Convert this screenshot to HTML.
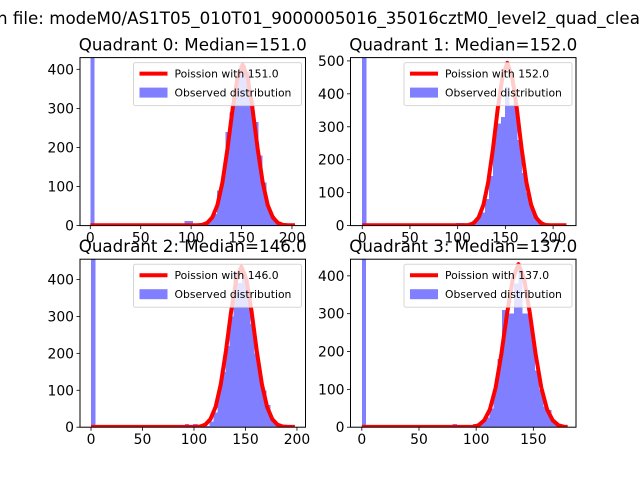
<!DOCTYPE html>
<html><head><meta charset="utf-8">
<style>
html,body{margin:0;padding:0;background:#fff;}
svg{display:block;font-family:"DejaVu Sans","Liberation Sans",sans-serif;}
</style></head>
<body>
<svg id="fig" width="640" height="480" viewBox="0 0 640 480">
<rect width="640" height="480" fill="#fff"/>
<text x="-3" y="24" font-size="16.7">n file: modeM0/AS1T05_010T01_9000005016_35016cztM0_level2_quad_clean.evt</text>
</svg>
<script>
// ---- data ----
const medians = [151.0, 152.0, 146.0, 137.0];
const binWidths = [4.06, 4.28, 3.96, 3.6];
const counts0 = [2000,0,0,0,0,0,0,0,0,0,0,0,0,0,0,0,0,0,0,0,0,0,0,12,12,6,0,3,5,15,30,90,130,240,290,345,385,410,395,320,265,180,110,45,25,10,6,3,2,1];
const counts1 = [2000,0,0,0,0,0,0,0,0,0,0,0,0,0,0,0,0,0,0,0,0,0,5,8,8,0,10,15,25,40,80,150,280,310,330,420,365,370,260,160,100,60,30,15,8,4,2,1,1,1];
const counts2 = [2000,0,0,0,0,0,0,0,0,0,0,0,0,0,0,0,0,0,0,0,0,0,0,8,0,8,0,0,3,15,40,100,150,220,300,420,390,420,350,280,200,140,100,60,20,8,4,2,1,1];
const counts3 = [2000,0,0,0,0,0,0,0,0,0,0,0,0,0,0,0,0,0,0,0,0,0,8,5,0,3,4,8,10,15,25,50,100,180,310,300,300,380,420,300,300,240,150,100,55,45,20,10,5,2];
const curveX0 = [0,100,106,111,116,121,126,131,136,141,146,151,156,161,166,171,176,181,186,191,196,203];
const curveY0 = [1,1,1,2,7,21,52,110,196,296,379,412,379,296,196,110,52,21,7,2,1,1];
const curveX1 = [0,100,107,112,117,122,127,132,137,142,147,152,157,162,167,172,177,182,187,192,197,214];
const curveY1 = [1,1,1,2,8,25,63,132,234,355,453,494,453,355,234,132,63,25,8,2,1,1];
const curveX2 = [0,95,101,106,111,116,121,126,131,136,141,146,151,156,161,166,171,176,181,186,191,198];
const curveY2 = [1,1,1,2,7,22,55,116,206,312,399,435,399,312,206,116,55,22,7,2,1,1];
const curveX3 = [0,87,92,97,102,107,112,117,122,127,132,137,142,147,152,157,162,167,172,177,180];
const curveY3 = [1,1,1,1,5,18,47,104,193,300,391,431,391,300,193,104,47,18,5,1,1];
const xTicks0 = [0,50,100,150,200];
const xTicks1 = [0,50,100,150,200];
const xTicks2 = [0,50,100,150,200];
const xTicks3 = [0,50,100,150];
const yTicks0 = [0,100,200,300,400];
const yTicks1 = [0,100,200,300,400,500];
const yTicks2 = [0,100,200,300,400];
const yTicks3 = [0,100,200,300,400];

const NS = "http://www.w3.org/2000/svg";
const fig = document.getElementById('fig');
function mk(tag, attrs, parent){ const e=document.createElementNS(NS,tag); for(const k in attrs) e.setAttribute(k,attrs[k]); (parent||fig).appendChild(e); return e; }

const panels = [
 {L:80,T:57.6,W:225.5,H:168,xlim:[-10.2,213.4],ylim:[0,430],counts:counts0,cx:curveX0,cy:curveY0,xt:xTicks0,yt:yTicks0},
 {L:350.5,T:57.6,W:225.5,H:168,xlim:[-12.3,224],ylim:[0,510],counts:counts1,cx:curveX1,cy:curveY1,xt:xTicks1,yt:yTicks1},
 {L:80,T:259.2,W:225.5,H:168,xlim:[-10.7,208.3],ylim:[0,455],counts:counts2,cx:curveX2,cy:curveY2,xt:xTicks2,yt:yTicks2},
 {L:350.5,T:259.2,W:225.5,H:168,xlim:[-9.9,187.3],ylim:[0,444],counts:counts3,cx:curveX3,cy:curveY3,xt:xTicks3,yt:yTicks3}
];

panels.forEach((p,q)=>{
  const g = mk('g',{});
  
  
  const sx = v => p.L + (v-p.xlim[0])/(p.xlim[1]-p.xlim[0])*p.W;
  const sy = v => p.T + p.H - (v-p.ylim[0])/(p.ylim[1]-p.ylim[0])*p.H;
  const clipId='clip'+q;
  const defs=mk('defs',{},g);
  const cp=mk('clipPath',{id:clipId},defs);
  mk('rect',{x:p.L,y:p.T,width:p.W,height:p.H},cp);
  const plot=mk('g',{'clip-path':'url(#'+clipId+')'},g);
  const bars=mk('g',{opacity:0.5,'shape-rendering':'crispEdges'},plot);
  const bw = binWidths[q];
  p.counts.forEach((c,i)=>{
    if(c<=0) return;
    const x0=sx(i*bw), x1=sx((i+1)*bw), y=sy(Math.min(c,p.ylim[1]*1.1));
    const r=mk('rect',{x:x0,y:y,width:x1-x0+0.3,height:sy(0)-y,fill:'#0000ff'},bars);
    
    
  });
  let d='';
  p.cx.forEach((x,i)=>{ d+=(i?'L':'M')+sx(x).toFixed(2)+','+sy(p.cy[i]).toFixed(2); });
  const line=mk('path',{d:d,fill:'none',stroke:'#ff0000','stroke-width':4,'stroke-linejoin':'round','stroke-linecap':'butt'},plot);
  
  
  const fr=mk('rect',{x:p.L,y:p.T,width:p.W,height:p.H,fill:'none',stroke:'#000','stroke-width':1},g);
  
  
  p.xt.forEach(t=>{
    const x=sx(t);
    mk('line',{x1:x,x2:x,y1:p.T+p.H,y2:p.T+p.H+3.5,stroke:'#000','stroke-width':0.8},g);
    const tx=mk('text',{x:x,y:p.T+p.H+17,'font-size':13.9,'text-anchor':'middle'},g);
    tx.textContent=t;
    
    
  });
  p.yt.forEach(t=>{
    const y=sy(t);
    mk('line',{x1:p.L-3.5,x2:p.L,y1:y,y2:y,stroke:'#000','stroke-width':0.8},g);
    const tx=mk('text',{x:p.L-6,y:y+5,'font-size':13.9,'text-anchor':'end'},g);
    tx.textContent=t;
    
    
  });
  const title=mk('text',{x:p.L+p.W/2,y:p.T-7,'font-size':16.7,'text-anchor':'middle'},g);
  title.textContent='Quadrant '+q+': Median='+medians[q].toFixed(1);
  
  
  const lx=p.L+p.W-172, ly=p.T+5;
  const lg=mk('g',{},g);
  
  
  mk('rect',{x:lx,y:ly,width:168,height:43,rx:2,fill:'rgba(255,255,255,0.8)',stroke:'rgba(204,204,204,0.8)','stroke-width':1},lg);
  mk('line',{x1:lx+6,x2:lx+34,y1:ly+11,y2:ly+11,stroke:'#ff0000','stroke-width':4},lg);
  const t1=mk('text',{x:lx+41,y:ly+15,'font-size':10.8},lg);
  t1.textContent='Poission with '+medians[q].toFixed(1);
  
  
  mk('rect',{x:lx+6,y:ly+25,width:28,height:10,fill:'rgba(0,0,255,0.5)'},lg);
  const t2=mk('text',{x:lx+41,y:ly+34,'font-size':10.8},lg);
  t2.textContent='Observed distribution';
  
  
});
</script>
</body></html>
